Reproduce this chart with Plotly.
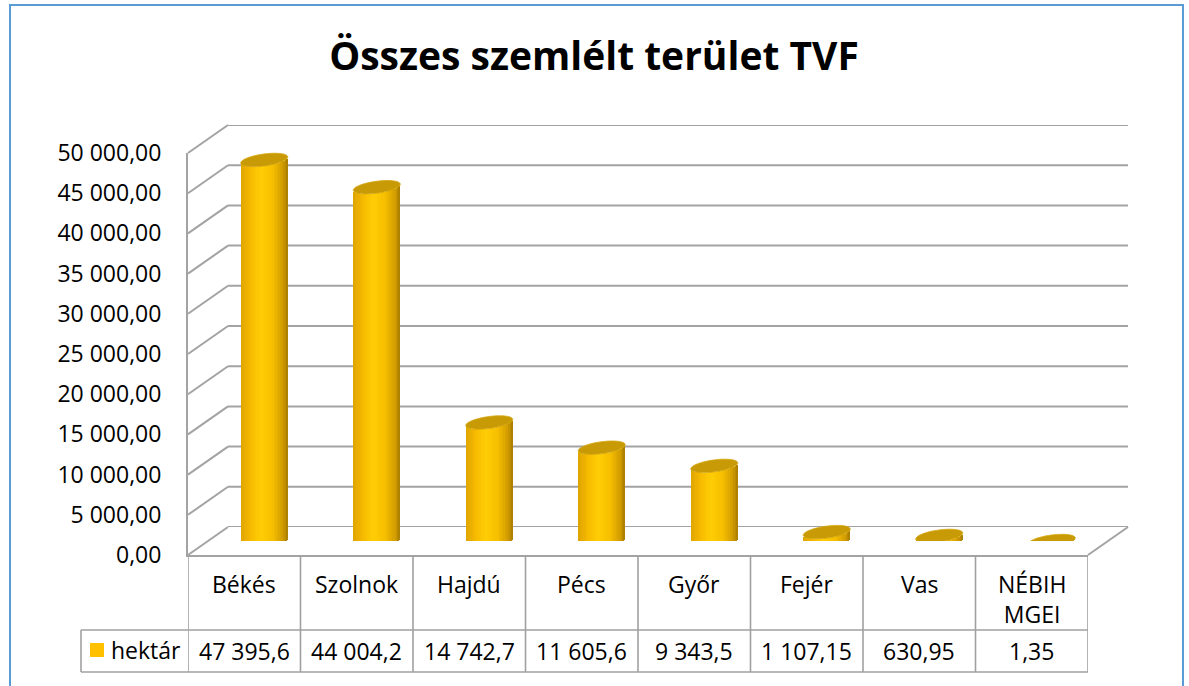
import numpy as np
import plotly.graph_objects as go

# ---------------- data ----------------
title_text = "Összes szemlélt terület TVF"
categories = ["Békés", "Szolnok", "Hajdú", "Pécs", "Győr", "Fejér", "Vas", "NÉBIH<br>MGEI"]
values = [47395.6, 44004.2, 14742.7, 11605.6, 9343.5, 1107.15, 630.95, 1.35]
series_name = "hektár"
y_ticks = [0, 5000, 10000, 15000, 20000, 25000, 30000, 35000, 40000, 45000, 50000]
y_max = 50000


def hu_format(v):
    s = repr(float(v))
    ip, dp = s.split(".")
    groups = []
    while len(ip) > 3:
        groups.insert(0, ip[-3:])
        ip = ip[:-3]
    groups.insert(0, ip)
    out = " ".join(groups)
    if dp != "0":
        out += "," + dp
    return out


value_labels = [hu_format(v) for v in values]

# ---------------- geometry (pixels) ----------------
W, H = 1189, 686
FX0, FX1 = 188, 1088       # front plane left/right
FY0, FY1 = 555, 153        # front plane value 0 / value max
DX, DY = 40, 28            # depth offset to back wall
FONT = "Open Sans"
FS = 23
GRID = "#A3A3A3"
TABLE = "#A0A0A0"


def px(x):
    return x / W


def py(y):
    return 1 - y / H


def front_y(v):
    return FY0 - v / y_max * (FY0 - FY1)


n = len(categories)
slot = (FX1 - FX0) / n
ypx = y_max / (FY0 - FY1)   # data units per pixel (vertical)
bar_w = 47 / slot           # cylinder width in category units
h_px, tilt_px = 6.0, 3.0    # ellipse half height and tilt

fig = go.Figure()


def shade(u):
    pts = [(-1.0, (222, 164, 0)), (-0.6, (246, 186, 0)), (-0.15, (255, 205, 5)),
           (0.35, (246, 191, 0)), (0.75, (214, 160, 0)), (1.0, (168, 124, 0))]
    for (u0, c0), (u1, c1) in zip(pts[:-1], pts[1:]):
        if u0 <= u <= u1:
            t = (u - u0) / (u1 - u0)
            c = [round(a + (b - a) * t) for a, b in zip(c0, c1)]
            return "rgb(%d,%d,%d)" % tuple(c)
    return "rgb(168,124,0)"


xs = list(range(n))
N = 30
for k in range(N):
    u = -1 + (2 * k + 1) / N
    off = -bar_w / 2 + k * bar_w / N
    wid = bar_w / N * (1.35 if k < N - 1 else 1.0)
    base = (tilt_px * u - h_px * np.sqrt(1 - u * u)) * ypx
    fig.add_trace(go.Bar(
        x=xs, y=values, base=[base] * n, offset=off, width=wid,
        marker=dict(color=shade(u), line=dict(width=0)),
        xaxis="x2", yaxis="y2", showlegend=False, hoverinfo="skip"))

shapes = []
# top faces of cylinders
theta = np.linspace(0, 2 * np.pi, 60)
for i, v in enumerate(values):
    xx = i + bar_w / 2 * np.cos(theta)
    yy = v + (tilt_px * np.cos(theta) + h_px * np.sin(theta)) * ypx
    path = "M " + " L ".join("%.5f,%.3f" % (a, b) for a, b in zip(xx, yy)) + " Z"
    shapes.append(dict(type="path", path=path, xref="x2", yref="y2",
                       fillcolor="#C89A06", line=dict(color="#D6A812", width=0.8),
                       layer="above"))

# back wall gridlines and side wall diagonals
for v in y_ticks:
    shapes.append(dict(type="line", xref="x3 domain", yref="y3", x0=0, x1=1, y0=v, y1=v,
                       line=dict(color=GRID, width=2), layer="below"))
    shapes.append(dict(type="line", xref="paper", yref="paper",
                       x0=px(FX0), y0=py(front_y(v)), x1=px(FX0 + DX), y1=py(front_y(v) - DY),
                       line=dict(color=GRID, width=2), layer="below"))
# floor right edge
shapes.append(dict(type="line", xref="paper", yref="paper",
                   x0=px(FX1), y0=py(FY0), x1=px(FX1 + DX), y1=py(FY0 - DY),
                   line=dict(color=GRID, width=2), layer="below"))

# data table
ROW1_B, ROW2_B = 630, 672
LEG_X0 = 81
for k in range(n + 1):
    shapes.append(dict(type="line", xref="x", yref="paper", x0=k - 0.5, x1=k - 0.5,
                       y0=py(FY0), y1=py(ROW2_B), line=dict(color=TABLE, width=1.6)))
for yy in (ROW1_B, ROW2_B):
    shapes.append(dict(type="line", xref="paper", yref="paper", x0=px(LEG_X0), x1=px(FX1),
                       y0=py(yy), y1=py(yy), line=dict(color=TABLE, width=1.6)))
shapes.append(dict(type="line", xref="paper", yref="paper", x0=px(LEG_X0), x1=px(LEG_X0),
                   y0=py(ROW1_B), y1=py(ROW2_B), line=dict(color=TABLE, width=1.6)))
# legend key
shapes.append(dict(type="rect", xref="paper", yref="paper", x0=px(90), x1=px(104),
                   y0=py(657), y1=py(643), fillcolor="#FFC000", line=dict(width=0)))
# outer border
shapes.append(dict(type="rect", xref="paper", yref="paper", x0=px(10), x1=px(1183),
                   y0=py(5), y1=py(700), line=dict(color="#5B9BD5", width=2)))

annotations = []
for i, c in enumerate(categories):
    annotations.append(dict(x=i, xref="x", y=py(566), yref="paper", text=c,
                            showarrow=False, xanchor="center", yanchor="top",
                            font=dict(family=FONT, size=FS, color="#000")))
for i, t in enumerate(value_labels):
    annotations.append(dict(x=i, xref="x", y=py(651), yref="paper", text=t,
                            showarrow=False, xanchor="center", yanchor="middle",
                            font=dict(family=FONT, size=FS, color="#000")))
annotations.append(dict(x=px(109), xref="paper", y=py(650), yref="paper", text=series_name,
                        showarrow=False, xanchor="left", yanchor="middle",
                        font=dict(family=FONT, size=FS, color="#000")))

axis_common = dict(showgrid=False, zeroline=False, fixedrange=True)
fig.update_layout(
    width=W, height=H,
    margin=dict(l=0, r=0, t=0, b=0, pad=0, autoexpand=False),
    paper_bgcolor="white", plot_bgcolor="rgba(0,0,0,0)",
    separators=", ",
    barmode="overlay", bargap=0,
    title=dict(text="<b>" + title_text + "</b>", x=594 / W, xanchor="center",
               y=py(56), yanchor="middle",
               font=dict(family=FONT, size=39, color="#000")),
    xaxis=dict(domain=[px(FX0), px(FX1)], range=[-0.5, n - 0.5], showticklabels=False,
               showline=True, linecolor=GRID, linewidth=2, anchor="y", **axis_common),
    yaxis=dict(domain=[py(FY0), py(FY1)], range=[0, y_max], tickvals=y_ticks,
               tickformat=",.2f", ticks="", ticklabelstandoff=20,
               tickfont=dict(family=FONT, size=FS, color="#000"),
               showline=True, linecolor=GRID, linewidth=2, anchor="x", **axis_common),
    xaxis2=dict(domain=[px(FX0 + DX / 2), px(FX1 + DX / 2)], range=[-0.5, n - 0.5],
                visible=False, anchor="y2", **axis_common),
    yaxis2=dict(domain=[py(FY0 - DY / 2), py(FY1 - DY / 2)], range=[0, y_max],
                visible=False, anchor="x2", **axis_common),
    xaxis3=dict(domain=[px(FX0 + DX), px(FX1 + DX)], range=[-0.5, n - 0.5],
                visible=False, anchor="y3", **axis_common),
    yaxis3=dict(domain=[py(FY0 - DY), py(FY1 - DY)], range=[0, y_max],
                visible=False, anchor="x3", **axis_common),
    shapes=shapes, annotations=annotations,
    showlegend=False,
)

fig.write_html("out.html", config={"displayModeBar": False},
               post_script="document.body.style.margin='0';document.body.style.overflow='hidden';")
